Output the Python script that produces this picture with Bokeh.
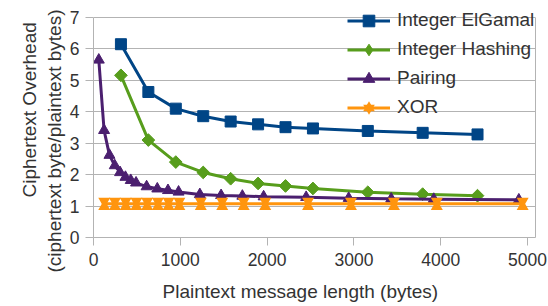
import numpy as np
from bokeh.plotting import figure
from bokeh.models import Range1d, FixedTicker, Legend, LegendItem, Title, LinearAxis
from bokeh.embed import file_html
from bokeh.resources import INLINE

# ---- data ----
elgamal_x = [316, 632, 948, 1264, 1580, 1896, 2212, 2528, 3160, 3792, 4424]
elgamal_y = [6.15, 4.63, 4.10, 3.86, 3.69, 3.60, 3.51, 3.47, 3.39, 3.33, 3.28]

hashing_x = [316, 632, 948, 1264, 1580, 1896, 2212, 2528, 3160, 3792, 4424]
hashing_y = [5.16, 3.10, 2.40, 2.07, 1.87, 1.72, 1.64, 1.56, 1.44, 1.38, 1.33]

pairing_x = [61, 122, 184, 245, 306, 368, 429, 490, 612, 735, 858, 980,
             1225, 1470, 1715, 1960, 2450, 2940, 3430, 3920, 4900]
pairing_y = [5.65, 3.41, 2.62, 2.29, 2.07, 1.92, 1.82, 1.74, 1.62, 1.55, 1.50, 1.45,
             1.37, 1.34, 1.32, 1.30, 1.28, 1.25, 1.23, 1.22, 1.20]

xor_x = [124, 247, 371, 494, 618, 742, 865, 989,
         1236, 1483, 1730, 1978, 2472, 2966, 3461, 3955, 4944]
xor_y = [1.07, 1.07, 1.07, 1.07, 1.07, 1.07, 1.07, 1.07,
         1.07, 1.07, 1.07, 1.07, 1.07, 1.07, 1.07, 1.07, 1.07]

x_ticks = [0, 1000, 2000, 3000, 4000, 5000]
y_ticks = [0, 1, 2, 3, 4, 5, 6, 7]

series_names = ["Integer ElGamal", "Integer Hashing", "Pairing", "XOR"]
x_title = "Plaintext message length (bytes)"
y_title_1 = "Ciphertext Overhead"
y_title_2 = "(ciphertext byte/plaintext bytes)"

# ---- style ----
FONT = "Liberation Sans"
TXT = "#333333"
GRID = "#b3b3b3"
C_BLUE = "#004586"
C_GREEN = "#579d1c"
C_PURPLE = "#4b1f6f"
C_ORANGE = "#ff950e"

W, H = 548, 306
X_MAX = 5092
Y_AXIS_MAX = 7
PX_PER_UNIT = 220 / 7
FRAME_LEFT = 93
FRAME_BOTTOM = 237
FRAME_TOP = 4                       # frame reaches above the 7-line so the legend is not clipped
FRAME_H = FRAME_BOTTOM - FRAME_TOP
FRAME_W = 535 - FRAME_LEFT
Y_TOP = FRAME_H / PX_PER_UNIT

p = figure(width=W, height=H, output_backend="svg", toolbar_location=None,
           x_range=Range1d(0, X_MAX), y_range=Range1d(0, Y_TOP),
           min_border_left=FRAME_LEFT, min_border_right=W - 535, min_border_top=FRAME_TOP,
           min_border_bottom=H - FRAME_BOTTOM)
p.frame_width = FRAME_W
p.frame_height = FRAME_H
p.background_fill_color = "white"
p.border_fill_color = "white"
p.outline_line_color = None

# shifted scales for the two halves of the XOR "hourglass" marker
d = 2.54 / PX_PER_UNIT
p.extra_y_ranges = {"xor_up": Range1d(-d, Y_TOP - d), "xor_dn": Range1d(d, Y_TOP + d)}

for ax in (p.xaxis[0], p.yaxis[0]):
    ax.axis_line_color = GRID
    ax.major_tick_line_color = GRID
    ax.major_tick_out = 8
    ax.major_tick_in = 0
    ax.minor_tick_line_color = None
    ax.major_label_text_font = FONT
    ax.major_label_text_font_size = "17.5px"
    ax.major_label_text_color = TXT

p.xaxis[0].ticker = FixedTicker(ticks=x_ticks)
p.yaxis[0].ticker = FixedTicker(ticks=y_ticks)
p.yaxis[0].bounds = (0, Y_AXIS_MAX)
p.xaxis[0].major_label_standoff = 7
p.yaxis[0].major_label_standoff = 6

# right-hand border of the plot area
right_border = LinearAxis(bounds=(0, Y_AXIS_MAX), ticker=FixedTicker(ticks=[]),
                          axis_line_color=GRID, major_tick_line_color=None,
                          minor_tick_line_color=None)
p.add_layout(right_border, "right")

p.xgrid.grid_line_color = None
p.ygrid.grid_line_color = GRID
p.ygrid.grid_line_width = 1

LW = 3
l1 = p.line(elgamal_x, elgamal_y, line_color=C_BLUE, line_width=LW)
s1 = p.scatter(elgamal_x, elgamal_y, marker="square", size=11,
               fill_color=C_BLUE, line_color=C_BLUE, line_width=1)

l2 = p.line(hashing_x, hashing_y, line_color=C_GREEN, line_width=LW)
# plain diamond (hidden under the rotated squares) gives the legend its diamond glyph
s2_leg = p.scatter(hashing_x, hashing_y, marker="diamond", size=8,
                   fill_color=C_GREEN, line_color=C_GREEN, line_width=1)
s2 = p.scatter(hashing_x, hashing_y, marker="square", angle=np.pi / 4, size=9,
               fill_color=C_GREEN, line_color=C_GREEN, line_width=1)

l3 = p.line(pairing_x, pairing_y, line_color=C_PURPLE, line_width=LW)
s3 = p.scatter(pairing_x, pairing_y, marker="triangle", size=11,
               fill_color=C_PURPLE, line_color=C_PURPLE, line_width=1)

l4 = p.line(xor_x, xor_y, line_color=C_ORANGE, line_width=LW)
s4a = p.scatter(xor_x, xor_y, marker="inverted_triangle", size=12, y_range_name="xor_up",
                fill_color=C_ORANGE, line_color=None)
s4b = p.scatter(xor_x, xor_y, marker="triangle", size=12, y_range_name="xor_dn",
                fill_color=C_ORANGE, line_color=None)

legend = Legend(items=[
    LegendItem(label=series_names[0], renderers=[l1, s1]),
    LegendItem(label=series_names[1], renderers=[l2, s2_leg]),
    LegendItem(label=series_names[2], renderers=[l3, s3]),
    LegendItem(label=series_names[3], renderers=[l4, s4a, s4b]),
], location=(254, 115.5), orientation="vertical", padding=0, spacing=0, margin=0,
    glyph_width=43, glyph_height=29, label_height=29, label_standoff=7,
    label_text_font=FONT, label_text_font_size="19px", label_text_color=TXT,
    label_text_baseline="middle",
    background_fill_alpha=0, border_line_color=None)
p.add_layout(legend)

tstyle = dict(text_font=FONT, text_font_size="19px", text_color=TXT,
              text_font_style="normal", align="left")
# left titles: text starts (bottom end) at frame bottom - offset
p.add_layout(Title(text=y_title_2, standoff=4, offset=FRAME_BOTTOM - 272, **tstyle), "left")
p.add_layout(Title(text=y_title_1, standoff=0, offset=FRAME_BOTTOM - 197, **tstyle), "left")
# bottom title: text starts at frame left + offset
p.add_layout(Title(text=x_title, standoff=21, offset=162 - FRAME_LEFT, **tstyle), "below")

open("out.html", "w").write(file_html(p, INLINE))
